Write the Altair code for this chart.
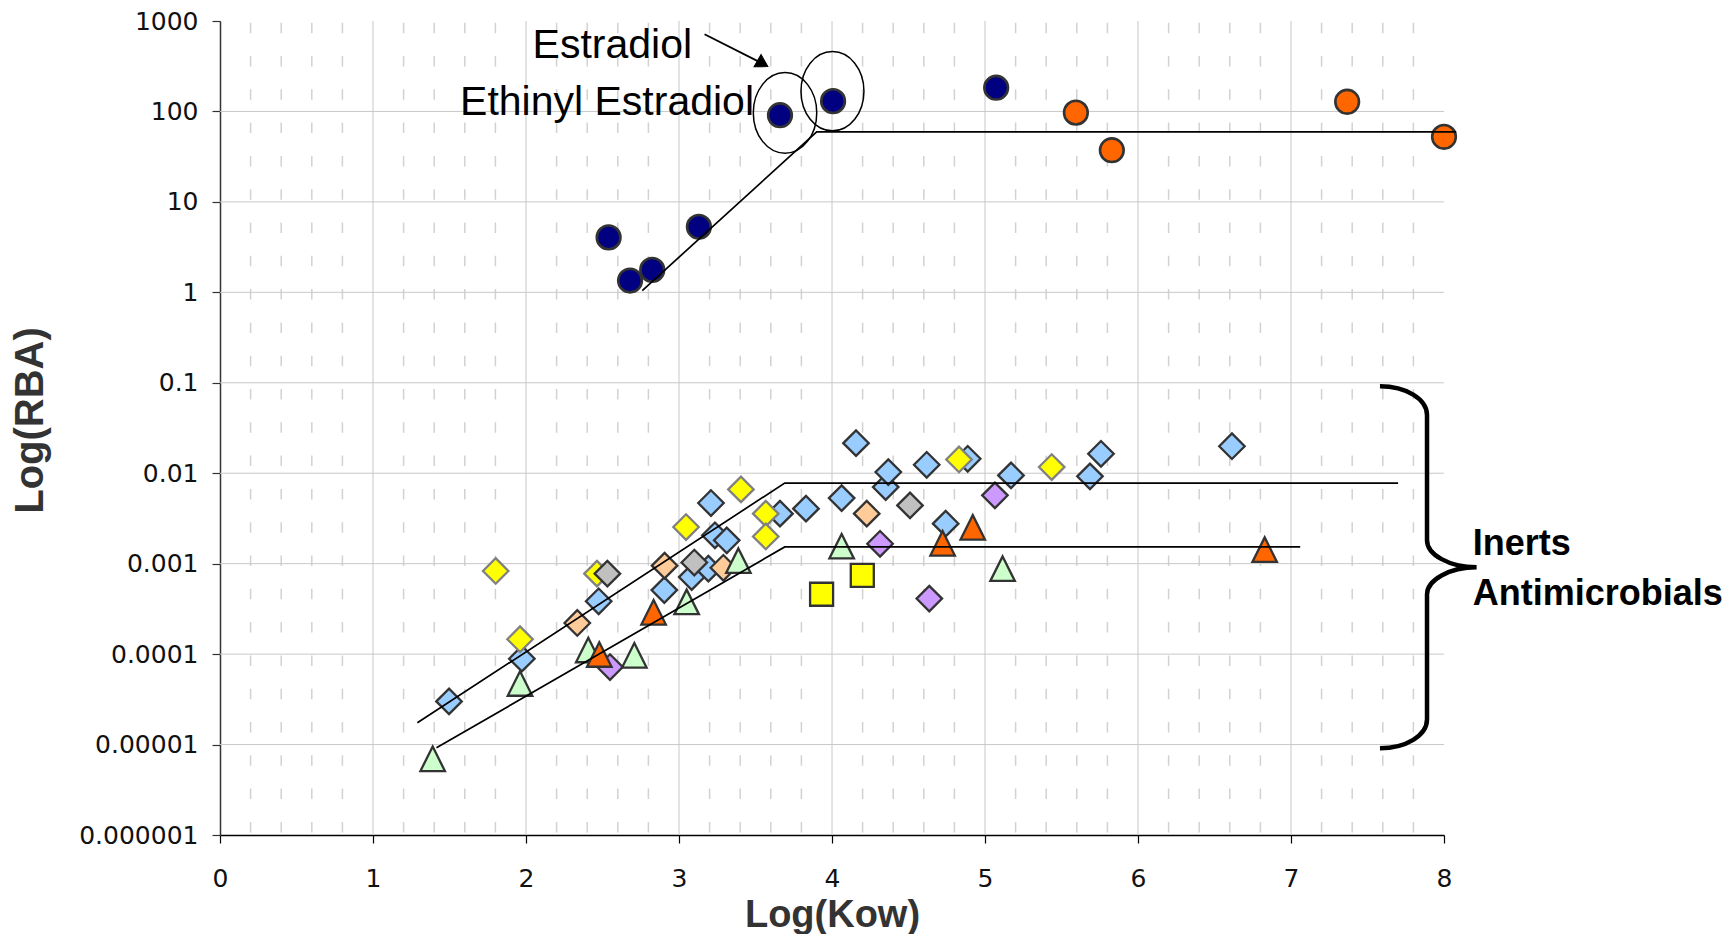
import altair as alt
import pandas as pd

# ---------------- data ----------------
# Estrogens (circles)
navy_x = [2.54, 2.68, 2.825, 3.13, 3.66, 4.007, 5.073]
navy_y = [4.05, 1.35, 1.77, 5.3, 90.9, 130, 183]
orange_circ_x = [5.594, 5.829, 7.367, 8.0]
orange_circ_y = [97, 37.3, 128, 52.4]

# Inerts / antimicrobials
blue_x = [1.497, 1.973, 2.475, 2.904, 3.083, 3.192, 3.209, 3.235, 3.312, 3.660, 3.830,
          4.063, 4.157, 4.351, 4.368, 4.619, 4.743, 4.887, 5.170, 5.686, 5.758, 6.614]
blue_y = [3.0e-5, 8.9e-5, 3.84e-4, 5.1e-4, 7.1e-4, 8.8e-4, 0.00468, 0.00206, 0.00181, 0.00357, 0.00406,
          0.00531, 0.0215, 0.00703, 0.0103, 0.0124, 0.00277, 0.01445, 0.00946, 0.00923, 0.0164, 0.0199]
yellow_x = [1.802, 1.961, 2.464, 3.046, 3.405, 3.567, 3.567, 4.830, 5.436]
yellow_y = [8.3e-4, 1.46e-4, 7.76e-4, 0.00254, 0.00662, 0.00357, 0.0020, 0.0142, 0.0117]
gray_x = [2.532, 3.100, 4.510]
gray_y = [7.76e-4, 0.00103, 0.00441]
peach_x = [2.335, 2.906, 3.290, 4.227]
peach_y = [2.21e-4, 9.5e-4, 9.0e-4, 0.00357]
purple_x = [2.549, 4.314, 4.636, 5.065]
purple_y = [7.2e-5, 0.00166, 4.11e-4, 0.00569]
green_x = [1.390, 1.961, 2.407, 2.708, 3.050, 3.388, 4.063, 5.115]
green_y = [6.96e-6, 4.73e-5, 1.11e-4, 9.7e-5, 3.78e-4, 0.00108, 0.00156, 8.8e-4]
orange_tri_x = [2.479, 2.834, 4.723, 4.920, 6.828]
orange_tri_y = [9.9e-5, 2.9e-4, 0.00168, 0.00252, 0.00143]
square_x = [3.932, 4.198]
square_y = [4.59e-4, 7.43e-4]

# Fitted lines
estro_line_x = [2.76, 3.90, 8.08]
estro_line_y = [1.045, 59.4, 59.4]
upper_line_x = [1.29, 3.691, 7.70]
upper_line_y = [1.74e-5, 0.00778, 0.00778]
lower_line_x = [1.415, 3.691, 7.06]
lower_line_y = [9.2e-6, 0.00153, 0.00153]

# Axis ticks
x_ticks = [0, 1, 2, 3, 4, 5, 6, 7, 8]
y_ticks = [1e-6, 1e-5, 1e-4, 1e-3, 1e-2, 1e-1, 1, 10, 100, 1000]
x_grid = [1, 2, 3, 4, 5, 6, 7]
y_grid = [1e-5, 1e-4, 1e-3, 1e-2, 1e-1, 1, 10, 100]
x_minor = [i / 5 for i in range(1, 40) if i % 5 != 0]

# Annotations
label_estradiol = ["Estradiol"]
label_estradiol_x = [2.043]
label_estradiol_y = [390]
label_ethinyl = ["Ethinyl Estradiol"]
label_ethinyl_x = [1.569]
label_ethinyl_y = [91.6]
ellipse_x = [3.693, 4.003]
ellipse_y = [96.4, 167.4]
arrow_x = [3.167, 3.547]
arrow_y = [713, 337.8]
brace_x = [7.889]
brace_y = [9.12e-4]
group_labels = ["Inerts", "Antimicrobials"]
group_label_x = [8.188, 8.188]
group_label_y = [0.001236, 3.47e-4]

W, H = 1224, 814


def X():
    return alt.X("x:Q",
                 scale=alt.Scale(domain=[0, 8], nice=False, zero=False),
                 axis=alt.Axis(values=x_ticks, format="d", grid=False, labelFlush=False,
                               labelOverlap=False,
                               domainColor="#000000", domainWidth=1.5,
                               tickColor="#000000", tickSize=8, tickWidth=1.2,
                               labelFont="DejaVu Sans", labelFontSize=25, labelColor="#111111",
                               labelPadding=23,
                               title="Log(Kow)", titleFont="Liberation Sans", titleFontSize=38,
                               titleFontWeight="bold", titleColor="#333333",
                               titleBaseline="alphabetic", titleY=91, titleX=W / 2))


def Y():
    return alt.Y("y:Q",
                 scale=alt.Scale(type="log", domain=[1e-6, 1000], nice=False),
                 axis=alt.Axis(values=y_ticks, labelExpr="format(datum.value, '.6~f')",
                               grid=False, labelFlush=False, labelOverlap=False,
                               domainColor="#333333", domainWidth=1.5,
                               tickColor="#333333", tickSize=8, tickWidth=1.2,
                               labelFont="DejaVu Sans", labelFontSize=25, labelColor="#111111",
                               labelPadding=14,
                               title="Log(RBA)", titleFont="Liberation Sans", titleFontSize=40,
                               titleFontWeight="bold", titleColor="#333333",
                               titleAngle=-90, titleBaseline="alphabetic", titleAlign="center",
                               titleX=-178, titleY=399))


layers = []

# grid
layers.append(alt.Chart(pd.DataFrame({"x": x_minor})).mark_rule(
    color="#d2d2d2", strokeWidth=1.5, strokeDash=[10.5, 22.8], strokeDashOffset=-1.7
).encode(x=X(), y=alt.value(0), y2=alt.value(H)))
layers.append(alt.Chart(pd.DataFrame({"x": x_grid})).mark_rule(
    color="#c8c8c8", strokeWidth=1
).encode(x=X(), y=alt.value(0), y2=alt.value(H)))
layers.append(alt.Chart(pd.DataFrame({"y": y_grid})).mark_rule(
    color="#c8c8c8", strokeWidth=1
).encode(y=Y(), x=alt.value(0), x2=alt.value(W)))

TRI = "M 0 -1 L 1 1 L -1 1 Z"
DARK = "#333333"


def pts(xs, ys, shape, fill, stroke, size, sw=2.3):
    return alt.Chart(pd.DataFrame({"x": xs, "y": ys})).mark_point(
        shape=shape, filled=True, fill=fill, stroke=stroke, strokeWidth=sw,
        size=size, opacity=1, fillOpacity=1, strokeOpacity=1
    ).encode(x=X(), y=Y())


layers += [
    pts(blue_x, blue_y, "diamond", "#99CCFF", DARK, 650),
    pts(yellow_x, yellow_y, "diamond", "#FFFF00", "#808080", 650),
    pts(gray_x, gray_y, "diamond", "#C0C0C0", DARK, 650),
    pts(peach_x, peach_y, "diamond", "#FFCC99", DARK, 650),
    pts(purple_x, purple_y, "diamond", "#CC99FF", DARK, 650),
    pts(green_x, green_y, TRI, "#CCFFCC", DARK, 600),
    pts(orange_tri_x, orange_tri_y, TRI, "#FF6600", DARK, 600),
    pts(square_x, square_y, "square", "#FFFF00", DARK, 530),
    pts(navy_x, navy_y, "circle", "#000080", DARK, 560, 2.6),
    pts(orange_circ_x, orange_circ_y, "circle", "#FF6600", DARK, 560, 2.6),
]

# fitted lines (drawn over markers)
for lx, ly in [(estro_line_x, estro_line_y), (upper_line_x, upper_line_y), (lower_line_x, lower_line_y)]:
    layers.append(alt.Chart(pd.DataFrame({"x": lx, "y": ly})).mark_line(
        color="#000000", strokeWidth=1.7
    ).encode(x=X(), y=Y()))


def ellipse_path(a):
    k = 0.5523
    return (f"M {a} 0 C {a} {k} {k*a:.4f} 1 0 1 C {-k*a:.4f} 1 {-a} {k} {-a} 0 "
            f"C {-a} {-k} {-k*a:.4f} -1 0 -1 C {k*a:.4f} -1 {a} {-k} {a} 0 Z")


# ellipses around the two estradiols
layers.append(alt.Chart(pd.DataFrame({"x": ellipse_x[:1], "y": ellipse_y[:1]})).mark_point(
    shape=ellipse_path(0.787), size=6497, filled=False, stroke="#000000", strokeWidth=1.5, opacity=1
).encode(x=X(), y=Y()))
layers.append(alt.Chart(pd.DataFrame({"x": ellipse_x[1:], "y": ellipse_y[1:]})).mark_point(
    shape=ellipse_path(0.795), size=6273, filled=False, stroke="#000000", strokeWidth=1.5, opacity=1
).encode(x=X(), y=Y()))

# arrow
layers.append(alt.Chart(pd.DataFrame({"x": arrow_x, "y": arrow_y})).mark_line(
    color="#000000", strokeWidth=1.8
).encode(x=X(), y=Y()))
layers.append(alt.Chart(pd.DataFrame({"x": arrow_x[1:], "y": arrow_y[1:]})).mark_point(
    shape="M 0 -0.85 L 1 0.85 L -1 0.85 Z", size=196, angle=120, filled=True,
    fill="#000000", stroke="#000000", strokeWidth=1, opacity=1
).encode(x=X(), y=Y()))

# text labels
layers.append(alt.Chart(pd.DataFrame({"x": label_estradiol_x, "y": label_estradiol_y, "t": label_estradiol})).mark_text(
    align="left", baseline="alphabetic", font="Liberation Sans", fontSize=41, color="#000000"
).encode(x=X(), y=Y(), text="t:N"))
layers.append(alt.Chart(pd.DataFrame({"x": label_ethinyl_x, "y": label_ethinyl_y, "t": label_ethinyl})).mark_text(
    align="left", baseline="alphabetic", font="Liberation Sans", fontSize=41, color="#000000"
).encode(x=X(), y=Y(), text="t:N"))

# brace
BRACE = ("M -0.26 -1 C -0.117 -1 0 -0.93 0 -0.84 L 0 -0.15 C 0 -0.07 0.123 0 0.274 0 "
         "C 0.123 0 0 0.07 0 0.15 L 0 0.84 C 0 0.93 -0.117 1 -0.26 1")
layers.append(alt.Chart(pd.DataFrame({"x": brace_x, "y": brace_y})).mark_point(
    shape=BRACE, size=362 * 362, filled=False, stroke="#000000", strokeWidth=4.5, opacity=1
).encode(x=X(), y=Y()))
layers.append(alt.Chart(pd.DataFrame({"x": group_label_x, "y": group_label_y, "t": group_labels})).mark_text(
    align="left", baseline="alphabetic", font="Liberation Sans", fontSize=36, fontWeight="bold",
    color="#000000"
).encode(x=X(), y=Y(), text="t:N"))

chart = alt.layer(*layers).properties(
    width=W, height=H,
    autosize=alt.AutoSizeParams(type="none"),
    padding={"left": 212, "top": 13, "right": 282, "bottom": 99},
    background="#ffffff",
).configure_view(stroke=None)

chart.save("out.html", embed_options={"renderer": "svg", "actions": False})
